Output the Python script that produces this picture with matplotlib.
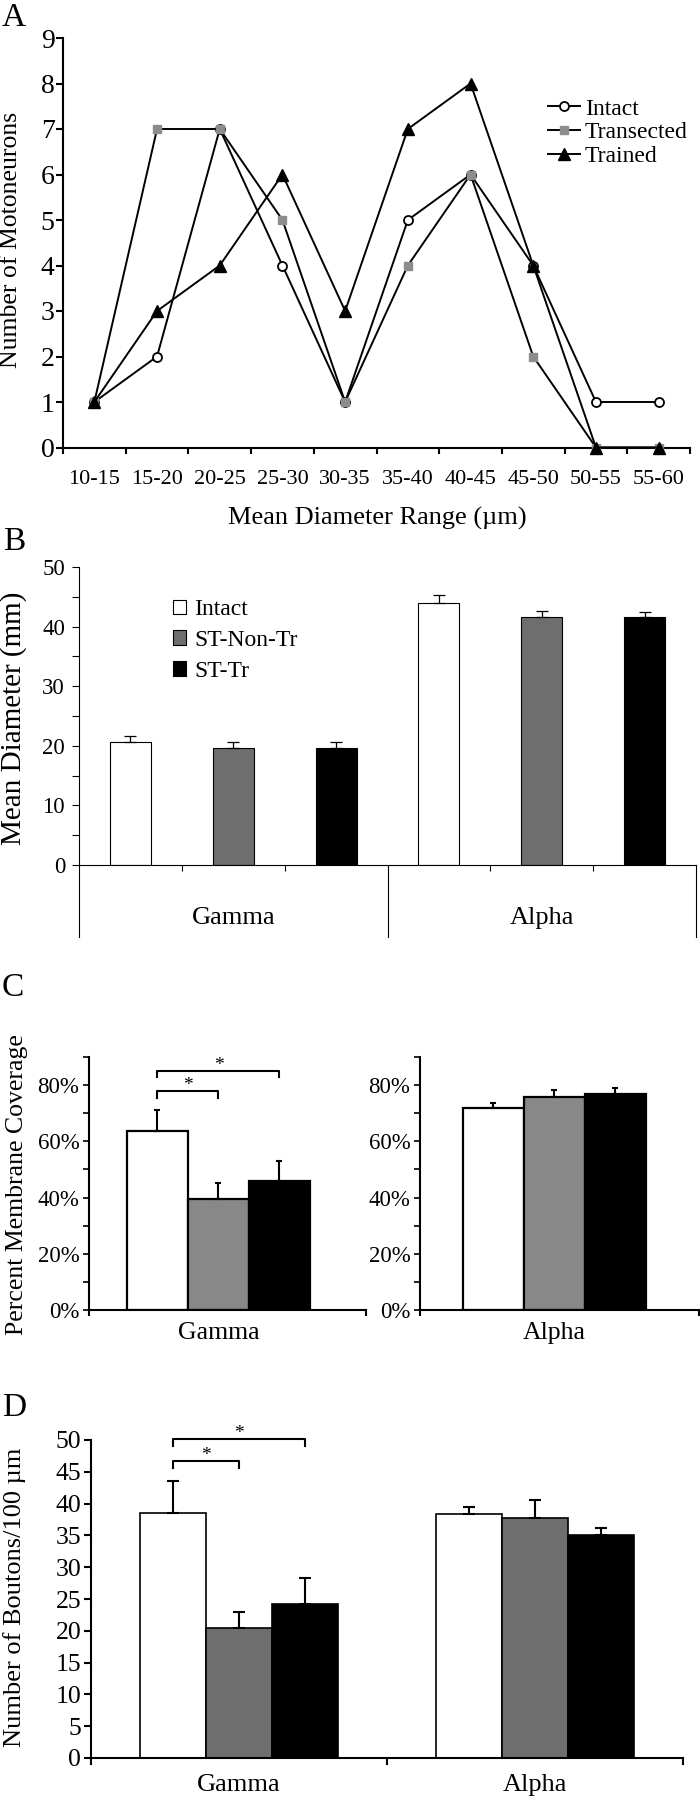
import matplotlib
matplotlib.use("Agg")
import matplotlib.pyplot as plt
import numpy as np

plt.rcParams['font.family'] = ['Liberation Serif', 'DejaVu Serif']

# ---------------- data ----------------
ranges = ['10-15', '15-20', '20-25', '25-30', '30-35', '35-40',
          '40-45', '45-50', '50-55', '55-60']
intact_n = [1, 2, 7, 4, 1, 5, 6, 4, 1, 1]
transected_n = [1, 7, 7, 5, 1, 4, 6, 2, 0, 0]
trained_n = [1, 3, 4, 6, 3, 7, 8, 4, 0, 0]

groups = ['Gamma', 'Alpha']
conditions = ['Intact', 'ST-Non-Tr', 'ST-Tr']

diam_gamma = [20.7, 19.7, 19.7]
diam_gamma_err = [0.9, 0.9, 1.0]
diam_alpha = [44.0, 41.6, 41.6]
diam_alpha_err = [1.3, 1.0, 0.9]

cov_gamma = [63.6, 39.5, 45.8]
cov_gamma_err = [7.4, 5.7, 7.2]
cov_alpha = [71.9, 75.9, 77.0]
cov_alpha_err = [1.8, 2.3, 2.1]

bout_gamma = [38.6, 20.4, 24.2]
bout_gamma_err = [5.0, 2.6, 4.1]
bout_alpha = [38.4, 37.8, 35.0]
bout_alpha_err = [1.0, 2.7, 1.2]

# ---------------- layout helpers ----------------
W, H = 700, 1800
fig = plt.figure(figsize=(7, 18), dpi=100)
PT = 72 / 100.0  # points per pixel


def rect(l, t, r, b):
    return [l / W, 1 - b / H, (r - l) / W, (b - t) / H]


def ftext(x, y, s, **kw):
    fig.text(x / W, 1 - y / H, s, **kw)


def style_axes(ax, lw):
    for s in ['top', 'right']:
        ax.spines[s].set_visible(False)
    for s in ['left', 'bottom']:
        ax.spines[s].set_linewidth(lw)


# ================= Panel A =================
axA = fig.add_axes(rect(63, 38, 690, 447.5))
xA = np.arange(len(ranges))
axA.plot(xA, intact_n, '-o', color='black', lw=1.4, ms=6.5, mfc='white',
         mec='black', mew=1.3, label='Intact', zorder=3, clip_on=False)
axA.plot(xA, transected_n, '-s', color='black', lw=1.4, ms=5.5,
         mfc='#8c8c8c', mec='#8c8c8c', label='Transected', zorder=4,
         clip_on=False)
axA.plot(xA, trained_n, '-^', color='black', lw=1.4, ms=8, mfc='black',
         mec='black', label='Trained', zorder=5, clip_on=False)
axA.set_xlim(-0.5, len(ranges) - 0.5)
axA.set_ylim(0, 9)
style_axes(axA, 1.5)
axA.set_yticks(range(10))
axA.tick_params(axis='y', direction='out', length=5, width=1.5,
                labelsize=20, pad=1)
axA.set_xticks(xA)
axA.set_xticklabels(ranges)
axA.tick_params(axis='x', which='major', length=0, labelsize=16, pad=16)
axA.set_xticks(np.arange(-0.5, len(ranges), 1), minor=True)
axA.tick_params(axis='x', which='minor', direction='out', length=4.5,
                width=1.5)
axA.legend(loc='upper left', bbox_to_anchor=(548 / W, 1 - 98 / H),
           bbox_transform=fig.transFigure, frameon=False, fontsize=17,
           handlelength=1.36, handletextpad=0.2, labelspacing=0.1,
           borderpad=0, borderaxespad=0, numpoints=1)
ftext(11, 240, 'Number of Motoneurons', rotation=90, ha='center',
      va='center', fontsize=18.5)
ftext(377, 518, 'Mean Diameter Range (µm)', ha='center', va='center',
      fontsize=19)
ftext(2, 18, 'A', fontsize=24, ha='left', va='center')

# ================= Panel B =================
axB = fig.add_axes(rect(79, 567, 696, 865))
colorsB = ['white', '#6e6e6e', 'black']
for i, cond in enumerate(conditions):
    xs = [i, i + 3]
    vals = [diam_gamma[i], diam_alpha[i]]
    errs = [diam_gamma_err[i], diam_alpha_err[i]]
    axB.bar(xs, vals, width=0.4, color=colorsB[i], edgecolor='black',
            lw=0.8, label=cond, zorder=2)
    axB.errorbar(xs, vals, yerr=[[0, 0], errs], fmt='none', ecolor='black',
                 elinewidth=0.9, capsize=4.5, capthick=0.9, zorder=3)
axB.set_xlim(-0.5, 5.5)
axB.set_ylim(0, 50)
style_axes(axB, 0.8)
axB.set_yticks(range(0, 51, 10))
axB.set_yticks(range(0, 51, 5), minor=True)
axB.tick_params(axis='y', which='both', direction='out', length=5,
                width=0.8, labelsize=16.5, pad=5)
axB.set_xticks([])
axB.set_xticks([0.5, 1.5, 3.5, 4.5], minor=True)
axB.tick_params(axis='x', which='minor', direction='out', length=4,
                width=0.8)
for xv in [-0.5, 2.5, 5.5]:
    axB.plot([xv, xv], [0, -12.1], color='black', lw=0.8, clip_on=False)
for gx, g in zip([1, 4], groups):
    axB.annotate(g, xy=(gx, 0), xycoords=('data', 'axes fraction'),
                 xytext=(0, -53 * PT), textcoords='offset points',
                 ha='center', va='center', fontsize=19)
axB.legend(loc='upper left', bbox_to_anchor=(173 / W, 1 - 599 / H),
           bbox_transform=fig.transFigure, frameon=False, fontsize=17,
           handlelength=0.55, handleheight=0.55, handletextpad=0.35,
           labelspacing=0.42, borderpad=0, borderaxespad=0)
ftext(14, 718, 'Mean Diameter (mm)', rotation=90, ha='center', va='center',
      fontsize=21)
ftext(3, 542, 'B', fontsize=24, ha='left', va='center')

# ================= Panel C =================
colorsC = ['white', '#888888', 'black']
axC1 = fig.add_axes(rect(89, 1057, 366, 1310))
axC2 = fig.add_axes(rect(420, 1057, 699, 1310))
for ax, vals, errs, xl, name in [
        (axC1, cov_gamma, cov_gamma_err, (-1.123, 3.42), groups[0]),
        (axC2, cov_alpha, cov_alpha_err, (-1.205, 3.37), groups[1])]:
    xb = np.arange(3)
    ax.bar(xb, vals, width=1.0, color=colorsC, edgecolor='black', lw=1.6,
           zorder=2)
    ax.errorbar(xb, vals, yerr=[[0, 0, 0], errs], fmt='none',
                ecolor='black', elinewidth=1.5, capsize=2.2, capthick=1.5,
                zorder=3)
    ax.set_xlim(*xl)
    ax.set_ylim(0, 90)
    style_axes(ax, 1.5)
    ax.set_yticks(range(0, 81, 20))
    ax.set_yticklabels([f'{v}%' for v in range(0, 81, 20)])
    ax.set_yticks(range(0, 91, 10), minor=True)
    ax.tick_params(axis='y', which='both', direction='out', length=4,
                   width=1.2, labelsize=16.5, pad=3)
    ax.set_xticks([])
    ax.set_xticks(list(xl), minor=True)
    ax.tick_params(axis='x', which='minor', direction='out', length=4,
                   width=1.5)
    ax.annotate(name, xy=(1, 0), xycoords=('data', 'axes fraction'),
                xytext=(0, -23 * PT), textcoords='offset points',
                ha='center', va='center', fontsize=18.5)

# significance brackets (Gamma)
axC1.plot([0, 0, 2, 2], [82.8, 85, 85, 82.8], color='black', lw=1.5,
          clip_on=False)
axC1.text(1, 85.4, '*', ha='center', va='baseline', fontsize=14)
axC1.plot([0, 0, 1, 1], [75.5, 77.8, 77.8, 75.5], color='black', lw=1.5,
          clip_on=False)
axC1.text(0.5, 78.2, '*', ha='center', va='baseline', fontsize=14)
ftext(17, 1185, 'Percent Membrane Coverage', rotation=90, ha='center',
      va='center', fontsize=18.5)
ftext(2, 988, 'C', fontsize=24, ha='left', va='center')

# ================= Panel D =================
axD = fig.add_axes(rect(91, 1440, 683, 1758))
colorsD = ['white', '#6e6e6e', 'black']
w = 0.222
xg = np.arange(len(groups))
for i, cond in enumerate(conditions):
    xs = xg + (i - 1) * w
    vals = [bout_gamma[i], bout_alpha[i]]
    errs = [bout_gamma_err[i], bout_alpha_err[i]]
    axD.bar(xs, vals, width=w, color=colorsD[i], edgecolor='black', lw=1.2,
            zorder=2)
    axD.errorbar(xs, vals, yerr=[[0, 0], errs], fmt='none', ecolor='black',
                 elinewidth=1.5, capsize=4.3, capthick=1.5, zorder=3)
axD.set_xlim(-0.5, 1.5)
axD.set_ylim(0, 50)
style_axes(axD, 1.5)
axD.set_yticks(range(0, 51, 5))
axD.tick_params(axis='y', direction='out', length=5, width=1.5,
                labelsize=18.5, pad=2)
axD.set_xticks([])
axD.set_xticks([-0.5, 0.5, 1.5], minor=True)
axD.tick_params(axis='x', which='minor', direction='out', length=5,
                width=1.5)
for gx, g in zip(xg, groups):
    axD.annotate(g, xy=(gx, 0), xycoords=('data', 'axes fraction'),
                 xytext=(0, -27 * PT), textcoords='offset points',
                 ha='center', va='center', fontsize=19)
axD.plot([-w, -w, w, w], [49.0, 50.2, 50.2, 49.0], color='black', lw=1.5,
         clip_on=False)
axD.text(0, 50.3, '*', ha='center', va='baseline', fontsize=14)
axD.plot([-w, -w, 0, 0], [45.6, 46.7, 46.7, 45.6], color='black', lw=1.5,
         clip_on=False)
axD.text(-w / 2, 46.8, '*', ha='center', va='baseline', fontsize=14)
ftext(15, 1597, 'Number of Boutons/100 µm', rotation=90, ha='center',
      va='center', fontsize=19)
ftext(2, 1408, 'D', fontsize=24, ha='left', va='center')

fig.savefig('out.png', dpi=100)
